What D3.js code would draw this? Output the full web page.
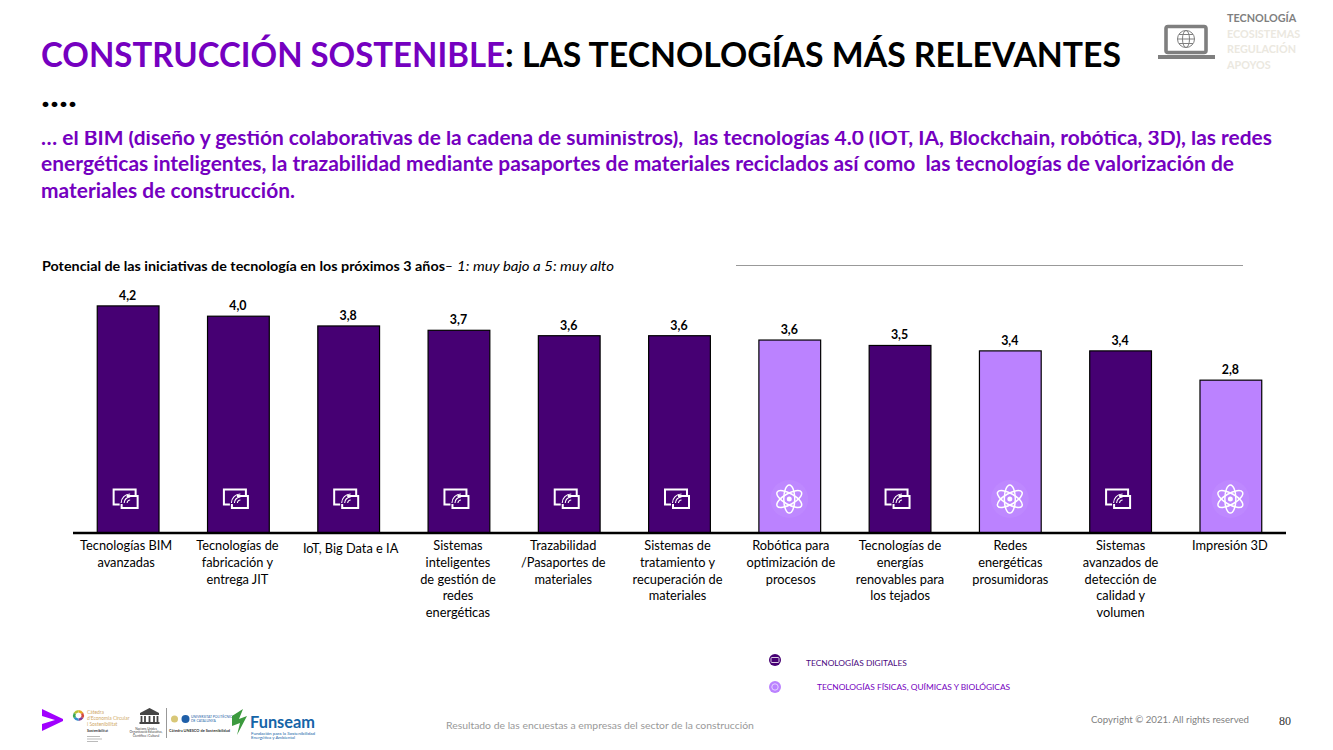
<!DOCTYPE html>
<html>
<head>
<meta charset="utf-8">
<script src="https://cdn.jsdelivr.net/npm/d3@7"></script>
<style>
  html, body { margin: 0; padding: 0; background: #fff; overflow: hidden; }
  svg { display: block; font-family: Lato, sans-serif; }
</style>
</head>
<body>
<script>
const categories = [
  ["Tecnologías BIM", "avanzadas"],
  ["Tecnologías de", "fabricación y", "entrega JIT"],
  ["IoT, Big Data e IA"],
  ["Sistemas", "inteligentes", "de gestión de", "redes", "energéticas"],
  ["Trazabilidad", "/Pasaportes de", "materiales"],
  ["Sistemas de", "tratamiento y", "recuperación de", "materiales"],
  ["Robótica para", "optimización de", "procesos"],
  ["Tecnologías de", "energías", "renovables para", "los tejados"],
  ["Redes", "energéticas", "prosumidoras"],
  ["Sistemas", "avanzados de", "detección de", "calidad y", "volumen"],
  ["Impresión 3D"]
];
const values = [4.19, 4.0, 3.82, 3.74, 3.64, 3.64, 3.56, 3.46, 3.36, 3.36, 2.82];
const labels = ["4,2", "4,0", "3,8", "3,7", "3,6", "3,6", "3,6", "3,5", "3,4", "3,4", "2,8"];
const groups = ["d", "d", "d", "d", "d", "d", "f", "d", "f", "d", "f"];
const legendItems = ["TECNOLOGÍAS DIGITALES", "TECNOLOGÍAS FÍSICAS, QUÍMICAS Y BIOLÓGICAS"];
const bodyLines = [
  "… el BIM (diseño y gestión colaborativas de la cadena de suministros),  las tecnologías 4.0 (IOT, IA, Blockchain, robótica, 3D), las redes",
  "energéticas inteligentes, la trazabilidad mediante pasaportes de materiales reciclados así como  las tecnologías de valorización de",
  "materiales de construcción."
];
const navItems = ["TECNOLOGÍA", "ECOSISTEMAS", "REGULACIÓN", "APOYOS"];

const purple = "#7500c0", dark = "#460073", light = "#bb82ff";

const svg = d3.select("body").append("svg").attr("width", 1333).attr("height", 750);

// Lato runs wider than the slide's font, so long lines get squeezed to the measured width
function fitted(parent, str, xPos, yPos, len, size, weight, fill) {
  return parent.append("text").attr("x", xPos).attr("y", yPos)
    .attr("font-size", size).attr("font-weight", weight).attr("fill", fill)
    .attr("textLength", len).attr("lengthAdjust", "spacingAndGlyphs")
    .style("white-space", "pre").text(str);
}

// heading
fitted(svg, "CONSTRUCCIÓN SOSTENIBLE", 41, 67, 464, 34.5, 700, purple);
fitted(svg, ": LAS TECNOLOGÍAS MÁS RELEVANTES", 505, 67, 616, 34.5, 700, "#000");
fitted(svg, "....", 41, 107, 36, 34.5, 700, "#000");

const bodyLen = [1231, 1193, 254], bodyY = [145, 171, 198];
bodyLines.forEach((l, i) => fitted(svg, l, 41, bodyY[i], bodyLen[i], 20, 700, purple));
// the heading box covers the top of the first line in the slide
svg.append("rect").attr("x", 30).attr("y", 116).attr("width", 1250).attr("height", 15).attr("fill", "#fff");

// top right nav
svg.append("g").selectAll("text").data(navItems).join("text")
  .attr("x", 1227).attr("y", (d, i) => 22 + i * 15.6)
  .attr("font-size", 10.8).attr("font-weight", 700)
  .attr("fill", (d, i) => i ? "#ebe8e0" : "#7f7f7f").text(d => d);

const laptop = svg.append("g").attr("transform", "translate(1186,39)").attr("fill", "none").attr("stroke", "#7f7f7f");
laptop.append("rect").attr("x", -20).attr("y", -12.5).attr("width", 40).attr("height", 26).attr("rx", 2).attr("stroke-width", 3.6);
laptop.append("rect").attr("x", -28).attr("y", 16).attr("width", 57).attr("height", 4).attr("fill", "#7f7f7f").attr("stroke", "none");
laptop.append("circle").attr("r", 8.5);
laptop.append("ellipse").attr("rx", 3.5).attr("ry", 8.5);
laptop.append("path").attr("d", "M-8.5,0H8.5M-7,-4.5H7M-7,4.5H7");

// chart heading
fitted(svg, "Potencial de las iniciativas de tecnología en los próximos 3 años", 42, 271, 403, 13.4, 700, "#000");
svg.append("text").attr("x", 445).attr("y", 271).attr("font-size", 13.4).text("–");
fitted(svg, "1: muy bajo a 5: muy alto", 457, 271, 157, 13.4, 400, "#000").attr("font-style", "italic");
svg.append("line").attr("x1", 736).attr("x2", 1243).attr("y1", 265.5).attr("y2", 265.5).attr("stroke", "#999");

// chart
const x = d3.scaleBand().domain(d3.range(categories.length)).range([73, 1286]).paddingInner(0.44).paddingOuter(0.22);
const y = d3.scaleLinear().domain([0, 5]).range([533, 262]);
const center = i => x(i) + x.bandwidth() / 2;

const bar = svg.append("g").selectAll("g").data(values).join("g");
bar.append("rect")
  .attr("x", (d, i) => x(i)).attr("y", d => y(d))
  .attr("width", x.bandwidth()).attr("height", d => y(0) - y(d))
  .attr("fill", (d, i) => groups[i] === "d" ? dark : light)
  .attr("stroke", "#000").attr("stroke-width", 1.2);
bar.append("text")
  .attr("x", (d, i) => center(i) - 0.5).attr("y", d => y(d) - 6)
  .attr("text-anchor", "middle").attr("font-size", 12.4).attr("font-weight", 700)
  .text((d, i) => labels[i]);

function digitalIcon(g) {
  g.attr("fill", "none").attr("stroke", "#fff");
  g.append("path").attr("stroke-width", 2).attr("d", "M-6,5.5H-12V-9.5H10V-3");
  g.append("path").attr("stroke-width", 2).attr("d", "M-4,5V9H12V-3H1");
  g.append("path").attr("stroke-width", 1.1).attr("d", "M-4.5,4A9,9 0 0 1 4.5,-5M-1.5,4A6,6 0 0 1 4.5,-2M1.5,4A3,3 0 0 1 4.5,1");
}
function atomIcon(g) {
  g.append("circle").attr("r", 19).attr("fill", "#fff").attr("opacity", 0.05);
  const orbits = g.append("g").attr("fill", "none").attr("stroke", "#fff").attr("stroke-width", 1.5);
  [0, 60, 120].forEach(a => orbits.append("ellipse").attr("rx", 5.5).attr("ry", 14).attr("transform", `rotate(${a})`));
  g.append("circle").attr("r", 2.5).attr("fill", "#fff");
}
bar.append("g")
  .attr("transform", (d, i) => `translate(${center(i) - (groups[i] === "d" ? 2.5 : 0.5)},${y(0) - 34})`)
  .each(function (d, i) { (groups[i] === "d" ? digitalIcon : atomIcon)(d3.select(this)); });

// category labels sit slightly off their bars in the slide
const labelNudge = [-2, -1, 2, -1, -6, -2, 1, 0, 0, 0, -1];
svg.append("g").selectAll("text").data(categories).join("text")
  .attr("text-anchor", "middle").attr("font-size", 12.8).attr("fill", "#000")
  .each(function (lines, i) {
    d3.select(this).selectAll("tspan").data(lines).join("tspan")
      .attr("x", center(i) + labelNudge[i])
      .attr("y", (l, j) => (i === 2 ? 553 : 550) + j * 16.8)
      .text(l => l);
  });

svg.append("line").attr("x1", x.range()[0]).attr("x2", x.range()[1]).attr("y1", y(0)).attr("y2", y(0))
  .attr("stroke", "#000").attr("stroke-width", 2.4);

// legend
const legend = svg.append("g").selectAll("g").data(legendItems).join("g");
legend.append("circle").attr("cx", 775).attr("cy", (d, i) => [660, 687][i]).attr("r", 6)
  .attr("fill", (d, i) => i ? light : dark);
legend.append("text").attr("x", (d, i) => [806, 817][i]).attr("y", (d, i) => [666, 690][i])
  .attr("font-size", 8.4).attr("fill", (d, i) => i ? purple : "#4b0a80").text(d => d);
svg.append("rect").attr("x", 771).attr("y", 657.5).attr("width", 8).attr("height", 5).attr("rx", 1)
  .attr("fill", "none").attr("stroke", "#fff").attr("stroke-width", 0.8);
svg.append("circle").attr("cx", 775).attr("cy", 687).attr("r", 3.2)
  .attr("fill", "none").attr("stroke", "#e6d4ff").attr("stroke-width", 1);

// footer
svg.append("path").attr("d", "M42,709L63,719V721L42,731V724L55,720L42,716Z").attr("fill", "#a100ff");
const ring = d3.arc().innerRadius(3).outerRadius(5.5);
const ringColors = ["#e5a823", "#d6483b", "#7f3f98", "#2f8fce", "#3aa655", "#b5c334"];
svg.append("g").attr("transform", "translate(78.5,715.5)").selectAll("path").data(ringColors).join("path")
  .attr("fill", d => d)
  .attr("d", (d, i) => ring({ startAngle: i * Math.PI / 3, endAngle: (i + 1) * Math.PI / 3 }));
svg.append("g").selectAll("text").data(["Càtedra", "d'Economia Circular", "i Sostenibilitat"]).join("text")
  .attr("x", 87).attr("y", (d, i) => 714 + i * 6).attr("font-size", 4.9).attr("fill", "#d0a868").text(d => d);
svg.append("text").attr("x", 87).attr("y", 732).attr("font-size", 3.6).attr("font-weight", 700).attr("fill", "#333").text("Sostenibilitat");
svg.append("path").attr("d", "M87,736.5H100M87,739H102M87,741.5H98").attr("stroke", "#bbb").attr("stroke-width", 1);
// UNESCO temple
svg.append("path").attr("d", "M149.5,708L159,713V715H140V713Z").attr("fill", "#444");
svg.append("path").attr("d", "M141.5,716V722M145,716V722M149.5,716V722M154,716V722M157.5,716V722").attr("stroke", "#444").attr("stroke-width", 1.8);
svg.append("rect").attr("x", 139.5).attr("y", 722).attr("width", 20).attr("height", 2).attr("fill", "#444");
svg.append("g").selectAll("text").data(["Nacions Unides", "Organització Educativa,", "Científica i Cultural"]).join("text")
  .attr("x", 146).attr("y", (d, i) => 729.5 + i * 3.6).attr("text-anchor", "middle").attr("font-size", 3.2).attr("fill", "#444").text(d => d);
svg.append("line").attr("x1", 166.5).attr("x2", 166.5).attr("y1", 708).attr("y2", 738).attr("stroke", "#999");
svg.append("circle").attr("cx", 185.5).attr("cy", 719).attr("r", 4).attr("fill", "#1f5fa8");
svg.append("circle").attr("cx", 174.5).attr("cy", 719).attr("r", 3.5).attr("fill", "#d8c777");
svg.append("text").attr("x", 191).attr("y", 717.5).attr("font-size", 3.4).attr("fill", "#1f5fa8").text("UNIVERSITAT POLITÈCNICA");
svg.append("text").attr("x", 191).attr("y", 721.5).attr("font-size", 3.4).attr("fill", "#1f5fa8").text("DE CATALUNYA");
svg.append("text").attr("x", 169).attr("y", 732).attr("font-size", 3.9).attr("font-weight", 700).attr("fill", "#333").text("Cátedra UNESCO de Sostenibilidad");
svg.append("path").attr("d", "M232,716L243,709L239,719L247,716L237,735L240,723L232,726Z").attr("fill", "#3c9a3e");
fitted(svg, "Funseam", 250, 727.5, 65, 17.5, 700, "#1565a8");
fitted(svg, "Fundación para la Sostenibilidad", 251, 735, 64, 4.6, 400, "#1565a8");
fitted(svg, "Energética y Ambiental", 251, 739.4, 44, 4.6, 400, "#1565a8");

svg.append("text").attr("x", 446).attr("y", 729).attr("font-size", 10.4).attr("fill", "#999").text("Resultado de las encuestas a empresas del sector de la construcción");
fitted(svg, "Copyright © 2021. All rights reserved", 1091, 723, 158, 10.4, 400, "#7f7f7f");
svg.append("text").attr("x", 1279).attr("y", 725).attr("font-size", 12).attr("font-family", "Liberation Serif").attr("fill", "#333").text("80");
</script>
</body>
</html>
